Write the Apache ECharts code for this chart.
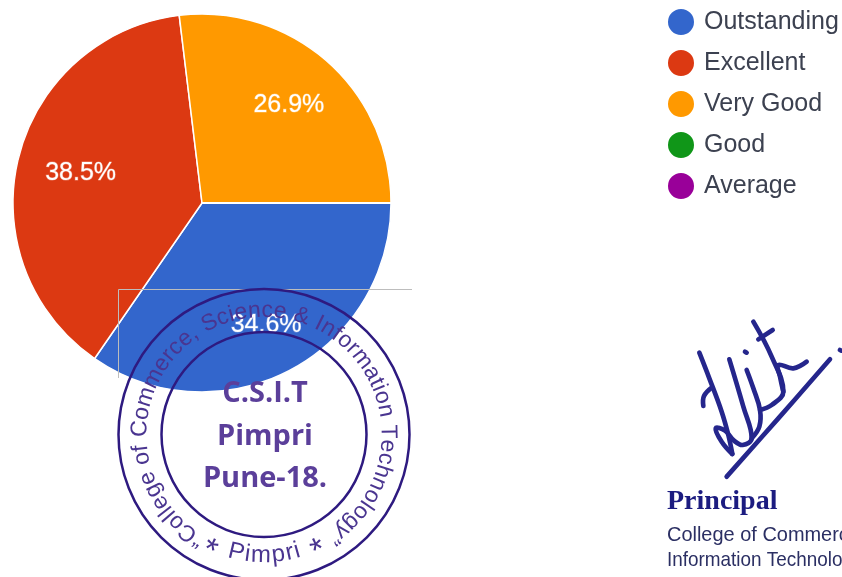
<!DOCTYPE html>
<html lang="en">
<head>
    <meta charset="UTF-8">
    <title>Feedback chart</title>
    <style>
        html, body {margin: 0; padding: 0; background: #fff; overflow: hidden;}
        #main {width: 842px; height: 577px;}
    </style>
</head>
<body>
<div id="main"></div>
<script src="https://cdn.jsdelivr.net/npm/echarts@6/dist/echarts.min.js"></script>
<script>
    let categories = ['Outstanding', 'Excellent', 'Very Good', 'Good', 'Average'];
    let responses = [9, 10, 7, 0, 0];
    let colors = ['#3366cc', '#dc3912', '#ff9900', '#109618', '#990099'];

    let stampUpper = '\u201CCollege of Commerce, Science & Information Technology\u201D';
    let stampLower = 'Pimpri';
    let stampCenter = ['C.S.I.T', 'Pimpri', 'Pune-18.'];

    let pieX = 202, pieY = 203, pieR = 189;
    let labelR = [138, 125, 131, 131, 131];
    let stampX = 264, stampY = 434.5;
    let stampColor = '#2e1a80', stampText = '#4a3590', stampBold = '#5b3f9a';

    let measure = document.createElement('canvas').getContext('2d');

    // stamp text goes round the ring one letter at a time
    function arcText(text, font, radius, midAngle, spacing, lower) {
        measure.font = font;
        let widths = text.split('').map(function (c) { return measure.measureText(c).width + spacing; });
        let total = widths.reduce(function (a, b) { return a + b; }, 0);
        let pos = -total / 2, out = [];
        text.split('').forEach(function (c, i) {
            let a = midAngle + (pos + widths[i] / 2) / radius;
            pos += widths[i];
            if (c === ' ') return;
            out.push({
                type: 'text', z: 100, silent: true,
                x: stampX + radius * Math.sin(a),
                y: lower ? stampY + radius * Math.cos(a) : stampY - radius * Math.cos(a),
                rotation: lower ? a : -a,
                style: {text: c, font: font, fill: stampText, align: 'center', verticalAlign: 'middle'}
            });
        });
        return out;
    }

    function ring(r, w) {
        return {
            type: 'circle', z: 100, silent: true,
            shape: {cx: stampX, cy: stampY, r: r},
            style: {fill: 'none', stroke: stampColor, lineWidth: w}
        };
    }

    function pen(points, w) {
        return {
            type: 'polyline', z: 100, silent: true,
            x: 650, y: 310, scaleX: 1 / 3, scaleY: 1 / 3,
            shape: {points: points, smooth: 0.4},
            style: {fill: 'none', stroke: '#25268c', lineWidth: w, lineCap: 'round', lineJoin: 'round'}
        };
    }

    function note(text, x, y, font, fill, sx) {
        return {
            type: 'text', z: 100, silent: true, x: x, y: y, scaleX: sx || 1,
            style: {text: text, font: font, fill: fill, align: 'left', verticalAlign: 'middle'}
        };
    }

    // pen strokes in the 3x crop space, moved back with scale 1/3
    let signature = [
        [[148, 128], [178, 205], [215, 305], [235, 375], [247, 432]],
        [[160, 288], [162, 258], [186, 232]],
        [[247, 432], [215, 395], [197, 355], [225, 362], [252, 392], [278, 405], [305, 385], [280, 290], [238, 148]],
        [[305, 385], [328, 350], [330, 300], [310, 235], [290, 180]],
        [[330, 300], [365, 285], [400, 245], [365, 140], [310, 35]],
        [[325, 88], [368, 60]],
        [[400, 245], [390, 200], [385, 165], [430, 175], [470, 155]],
        [[230, 500], [385, 325], [540, 148]],
        [[285, 125], [290, 128]],
        [[570, 120], [574, 122]]
    ];

    let graphics = [
        {type: 'line', z: 99, silent: true, shape: {x1: 118.5, y1: 289.5, x2: 412, y2: 289.5}, style: {stroke: '#bdbdbd', lineWidth: 1}},
        {type: 'line', z: 99, silent: true, shape: {x1: 118.5, y1: 289.5, x2: 118.5, y2: 378}, style: {stroke: '#bdbdbd', lineWidth: 1}},
        ring(145.5, 2.5),
        ring(102.5, 2.5)
    ];
    graphics = graphics.concat(arcText(stampUpper, '23px "Liberation Sans"', 124, -0.02, 0.8, false));
    graphics = graphics.concat(arcText(stampLower, '24px "Liberation Sans"', 121, 0, 0.8, true));
    graphics = graphics.concat(arcText('*', '34px "Liberation Sans"', 129, -0.44, 0, true));
    graphics = graphics.concat(arcText('*', '34px "Liberation Sans"', 129, 0.44, 0, true));
    stampCenter.forEach(function (t, i) {
        graphics.push({
            type: 'text', z: 100, silent: true, x: stampX + 1, y: 394 + i * 42.5,
            style: {text: t, font: 'bold 29px "Open Sans"', fill: stampBold, align: 'center', verticalAlign: 'middle'}
        });
    });
    signature.forEach(function (pts) { graphics.push(pen(pts, 14)); });
    graphics.push(note('Principal', 667, 502, 'bold 28px "Liberation Serif"', '#1c1c80'));
    graphics.push(note('College of Commerce', 667, 535, '21px "Liberation Sans"', '#2b2f63', 0.95));
    graphics.push(note('Information Technology', 667, 560, '21px "Liberation Sans"', '#2b2f63', 0.9));

    // middle angle of a slice, clockwise from 3 o'clock
    let total = responses.reduce(function (a, b) { return a + b; }, 0);
    function midAngle(i) {
        let before = responses.slice(0, i).reduce(function (a, b) { return a + b; }, 0);
        return (before + responses[i] / 2) / total * Math.PI * 2;
    }

    let myChart = echarts.init(document.getElementById('main'), null, {renderer: 'canvas'});
    let option = {
        animation: false,
        color: colors,
        legend: {
            orient: 'vertical',
            left: 666,
            top: 7,
            padding: 0,
            icon: 'circle',
            itemWidth: 28,
            itemHeight: 28,
            itemGap: 11,
            data: categories,
            selectedMode: false,
            textStyle: {fontFamily: 'Liberation Sans', fontSize: 25, color: '#3c4150', padding: [7, 0, 0, 4]}
        },
        series: [{
            type: 'pie',
            center: [pieX, pieY],
            radius: [0, pieR],
            startAngle: 0,
            clockwise: true,
            stillShowZeroSum: false,
            data: categories.map(function (name, i) { return {name: name, value: responses[i]}; }),
            itemStyle: {borderColor: '#fff', borderWidth: 1.5},
            label: {
                show: true,
                position: 'inside',
                formatter: function (p) { return p.value > 0 ? p.percent.toFixed(1) + '%' : ''; },
                fontFamily: 'Liberation Sans',
                fontSize: 25,
                color: '#fff',
                textBorderColor: 'rgba(255,255,255,0.35)',
                textBorderWidth: 1
            },
            labelLine: {show: false},
            // labels sit further out than the default mid radius
            labelLayout: function (p) {
                let a = midAngle(p.dataIndex);
                return {
                    x: pieX + labelR[p.dataIndex] * Math.cos(a),
                    y: pieY + labelR[p.dataIndex] * Math.sin(a),
                    align: 'center',
                    verticalAlign: 'middle'
                };
            }
        }],
        graphic: {elements: graphics}
    };
    myChart.setOption(option);
</script>
</body>
</html>
